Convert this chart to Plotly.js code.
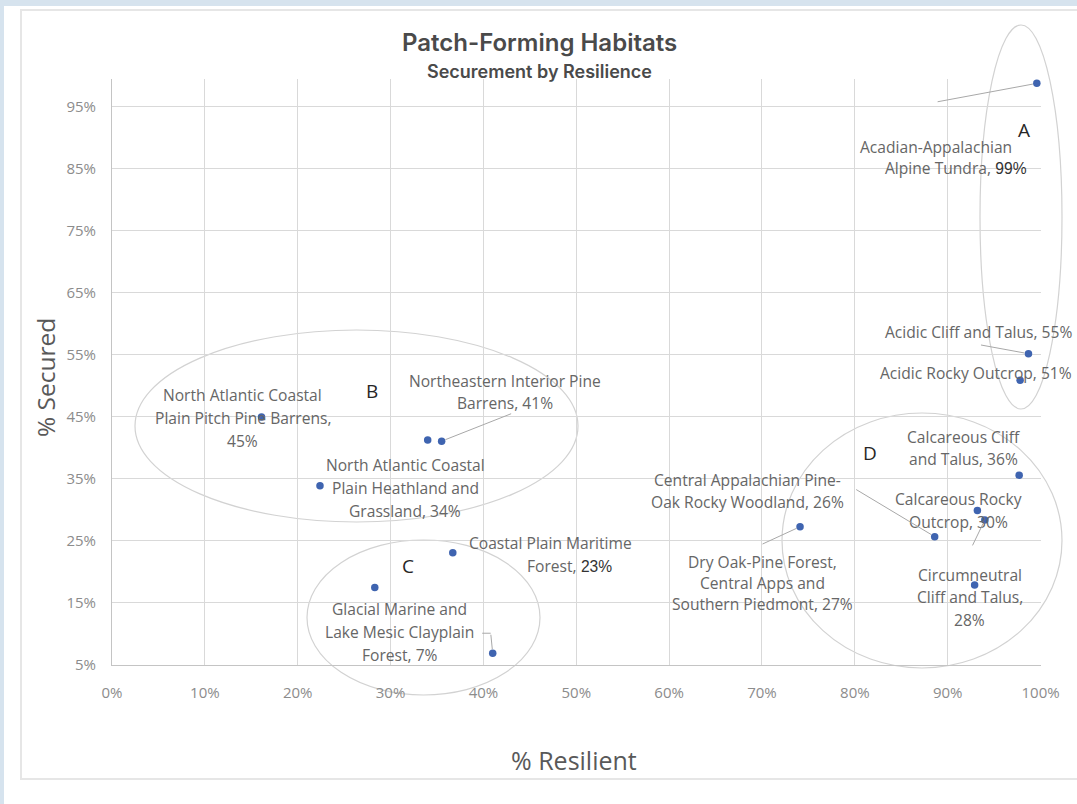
<!DOCTYPE html>
<html><head><meta charset="utf-8">
<script src="https://cdn.plot.ly/plotly-3.0.1.min.js"></script>
<style>
html,body{margin:0;padding:0;}
body{width:1077px;height:804px;background:#d6e3ee;position:relative;overflow:hidden;}
#panel{position:absolute;left:4px;top:6px;right:0;bottom:0;background:#fff;}
#frame{position:absolute;left:20px;top:9px;width:1090px;height:771px;border:2px solid #e6e6e6;box-sizing:border-box;}
#chart{position:absolute;left:0;top:0;width:1077px;height:804px;}
</style></head><body>
<div id="panel"></div><div id="frame"></div><div id="chart"></div>
<script>
// ---- data ----
const habitats = [
  "Acadian-Appalachian Alpine Tundra",
  "Acidic Cliff and Talus",
  "Acidic Rocky Outcrop",
  "North Atlantic Coastal Plain Pitch Pine Barrens",
  "Northeastern Interior Pine Barrens",
  "(unlabeled)",
  "North Atlantic Coastal Plain Heathland and Grassland",
  "Coastal Plain Maritime Forest",
  "Glacial Marine and Lake Mesic Clayplain Forest",
  "(unlabeled)",
  "Central Appalachian Pine-Oak Rocky Woodland",
  "Dry Oak-Pine Forest, Central Apps and Southern Piedmont",
  "Calcareous Cliff and Talus",
  "Calcareous Rocky Outcrop",
  "Circumneutral Cliff and Talus",
  "(unlabeled)"
];
const pctResilient = [0.996, 0.987, 0.978, 0.161, 0.355, 0.340, 0.224, 0.367, 0.410, 0.283, 0.886, 0.741, 0.977, 0.932, 0.940, 0.929];
const pctSecured   = [0.988, 0.552, 0.509, 0.450, 0.411, 0.413, 0.339, 0.231, 0.069, 0.175, 0.257, 0.273, 0.356, 0.299, 0.284, 0.179];
const labelLines = [
  ["Acadian-Appalachian", "Alpine Tundra,<span style=\"font-family:'Liberation Sans';fill:#333333\"> 99%</span>"],
  ["Acidic Cliff and Talus, 55%"],
  ["Acidic Rocky Outcrop, 51%"],
  ["North Atlantic Coastal", "Plain Pitch Pine Barrens,", "45%"],
  ["Northeastern Interior Pine", "Barrens, 41%"],
  [],
  ["North Atlantic Coastal", "Plain Heathland and", "Grassland, 34%"],
  ["Coastal Plain Maritime", "Forest,<span style=\"font-family:'Liberation Sans';fill:#333333\"> 23%</span>"],
  ["Glacial Marine and", "Lake Mesic Clayplain", "Forest, 7%"],
  [],
  ["Central Appalachian Pine-", "Oak Rocky Woodland, 26%"],
  ["Dry Oak-Pine Forest,", "Central Apps and", "Southern Piedmont, 27%"],
  ["Calcareous Cliff", "and Talus, 36%"],
  ["Calcareous Rocky", "Outcrop, 30%"],
  ["Circumneutral", "Cliff and Talus,", "28%"],
  []
];
const groupLetters = ["A", "B", "C", "D"];
const xTickVals = [0, 0.1, 0.2, 0.3, 0.4, 0.5, 0.6, 0.7, 0.8, 0.9, 1.0];
const yTickVals = [0.05, 0.15, 0.25, 0.35, 0.45, 0.55, 0.65, 0.75, 0.85, 0.95];

// ---- layout helpers (pixel -> paper) ----
const L = 112, R = 36, T = 79, B = 139, W = 1077, H = 804;
const PW = W - L - R, PH = H - T - B;
const px = v => (v - L) / PW;
const py = v => (H - B - v) / PH;

// label placement: pixel offsets from each point
const labelLayout = [
  {xa:'right', dx:[-22.7,-7.7], dy:63.7, gap:21},
  {xa:'right', dx:46, dy:-22, gap:0},
  {xa:'right', dx:54, dy:-7.7, gap:0},
  {xa:'center', dx:-18.7, dy:-22.3, gap:23},
  {xa:'center', dx:63, dy:-60, gap:22},
  null,
  {xa:'center', dx:85.5, dy:-21, gap:23},
  {xa:'left', dx:[14,72], dy:-10, gap:23},
  {xa:'center', dx:-93, dy:-44, gap:23},
  null,
  {xa:'center', dx:-187, dy:-56.7, gap:22},
  {xa:'center', dx:-38, dy:35.3, gap:21},
  {xa:'center', dx:-55.5, dy:-38, gap:22},
  {xa:'center', dx:-19, dy:-11.7, gap:23},
  {xa:'center', dx:-15, dy:55, gap:22.5},
  null
];
const leaders = [
  {i:0, ax:-100.7, ay:18.7},
  {i:1, ax:-49, ay:-9},
  {i:4, ax:71, ay:-28},
  {i:10, ax:-80, ay:-48},
  {i:11, ax:-39, ay:18},
  {i:14, ax:-13, ay:27}
];
const letterPos = [[1024,130],[372,391],[408,566],[870,453]];
const ellipsePx = [[980,25,1062,409],[135,330,578,522],[307,540,540,695],[782,413,1062,668]];

const labelFont = {family:'Open Sans', size:15.6, color:'#666666'};
const lineColor = '#a8a8a8';
const ann = [];

labelLayout.forEach((cfg, i) => {
  if (!cfg) return;
  labelLines[i].forEach((t, k) => {
    const dx = Array.isArray(cfg.dx) ? cfg.dx[k] : cfg.dx;
    ann.push({xref:'x', yref:'y', x:pctResilient[i], y:pctSecured[i], text:t, showarrow:false,
      xanchor:cfg.xa, yanchor:'middle', xshift:dx, yshift:-(cfg.dy + k*cfg.gap), font:labelFont});
  });
});
leaders.forEach(l => {
  ann.push({xref:'x', yref:'y', x:pctResilient[l.i], y:pctSecured[l.i], text:'', showarrow:true,
    arrowhead:0, arrowwidth:1, arrowcolor:lineColor, ax:l.ax, ay:l.ay, standoff:4});
});
// bracket leader for Glacial Marine label
ann.push({xref:'x', yref:'y', x:pctResilient[8], y:pctSecured[8], text:'', showarrow:true,
  arrowhead:0, arrowwidth:1, arrowcolor:lineColor, ax:-2, ay:-20, standoff:4});
ann.push({xref:'x', yref:'y', x:pctResilient[8], y:pctSecured[8], xshift:-2, yshift:20, text:'', showarrow:true,
  arrowhead:0, arrowwidth:1, arrowcolor:lineColor, ax:-10, ay:0, standoff:0});

groupLetters.forEach((g, k) => {
  ann.push({xref:'paper', yref:'paper', x:px(letterPos[k][0]), y:py(letterPos[k][1]), text:g, showarrow:false,
    xanchor:'center', yanchor:'middle', font:{family:'Open Sans', size:19, color:'#262626'}});
});

// titles
ann.push({xref:'paper', yref:'paper', x:px(539), y:py(43), text:'Patch-Forming Habitats', showarrow:false,
  xanchor:'center', yanchor:'middle', font:{family:'Inter', size:24, weight:600, color:'#4a4a4a'}});
ann.push({xref:'paper', yref:'paper', x:px(539.5), y:py(72), text:'Securement by Resilience', showarrow:false,
  xanchor:'center', yanchor:'middle', font:{family:'Inter', size:18, weight:600, color:'#4a4a4a'}});
ann.push({xref:'paper', yref:'paper', x:px(574), y:py(760), text:'% Resilient', showarrow:false,
  xanchor:'center', yanchor:'middle', font:{family:'Open Sans', size:25, color:'#595959'}});
ann.push({xref:'paper', yref:'paper', x:px(46), y:py(378), text:'% Secured', showarrow:false, textangle:-90,
  xanchor:'center', yanchor:'middle', font:{family:'Open Sans', size:24.5, color:'#595959'}});

const shapes = ellipsePx.map(e => ({type:'circle', xref:'paper', yref:'paper',
  x0:px(e[0]), y0:py(e[3]), x1:px(e[2]), y1:py(e[1]), line:{color:'#d2d2d2', width:1.2}, layer:'below'}));

const trace = {
  type:'scatter', mode:'markers', x:pctResilient, y:pctSecured, text:habitats,
  hoverinfo:'text', marker:{size:7.5, color:'#3f64b0'}, cliponaxis:false
};

const tickFont = {family:'Open Sans', size:15, color:'#8c8c8c'};
const layout = {
  width:W, height:H, margin:{l:L, r:R, t:T, b:B, pad:0},
  paper_bgcolor:'rgba(0,0,0,0)', plot_bgcolor:'rgba(0,0,0,0)', showlegend:false,
  xaxis:{range:[0,1.0005], tickmode:'array', tickvals:xTickVals, tickformat:'.0%', showgrid:true, gridcolor:'#d9d9d9',
    gridwidth:1, showline:true, linecolor:'#c4c4c4', linewidth:1, zeroline:false, ticks:'', tickfont:tickFont,
    ticklabelstandoff:14, fixedrange:true},
  yaxis:{range:[0.05,0.995], tickmode:'array', tickvals:yTickVals, tickformat:'.0%', showgrid:true, gridcolor:'#d9d9d9',
    gridwidth:1, showline:true, linecolor:'#c4c4c4', linewidth:1, zeroline:false, ticks:'', tickfont:tickFont,
    ticklabelstandoff:12, fixedrange:true},
  annotations:ann, shapes:shapes
};
Plotly.newPlot('chart', [trace], layout, {displayModeBar:false, staticPlot:true});
</script></body></html>
